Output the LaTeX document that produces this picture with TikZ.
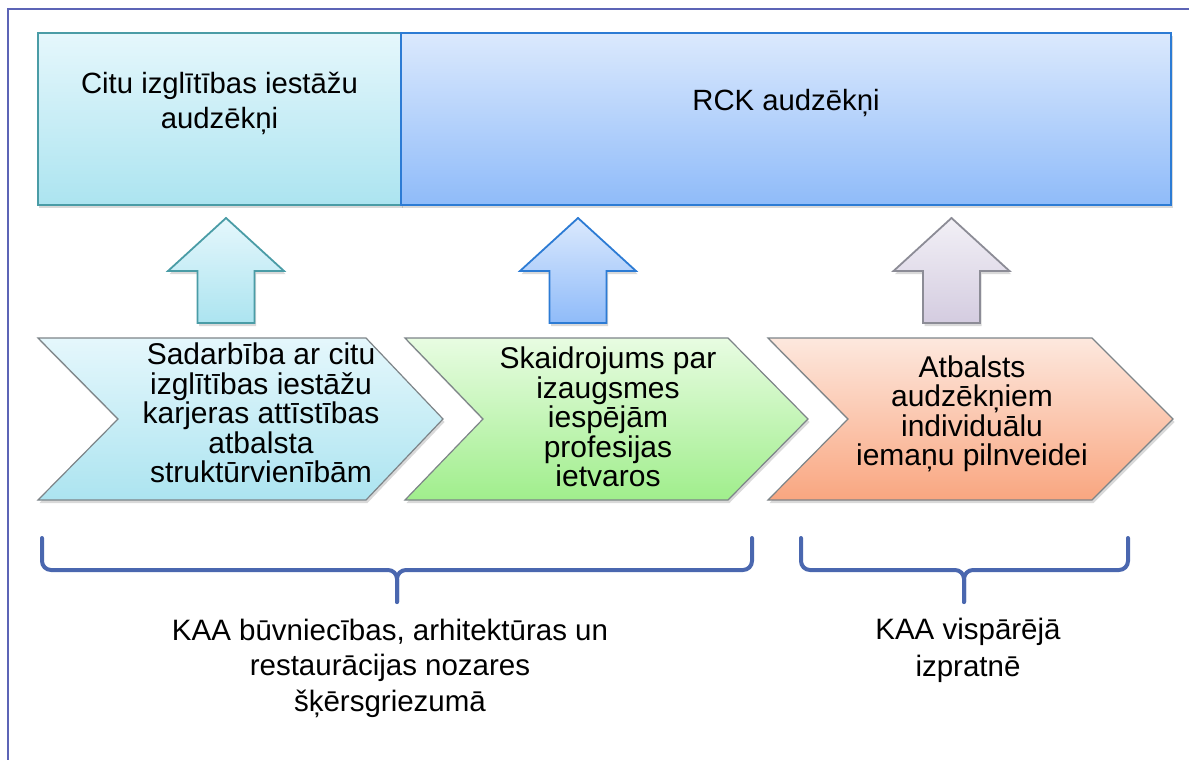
\documentclass[tikz,border=0pt]{standalone}
\usepackage{fontspec}
\setmainfont{Liberation Sans}
\usetikzlibrary{shadows}
\definecolor{framecol}{RGB}{92,100,182}
\definecolor{bracecol}{RGB}{74,103,175}
\definecolor{lTop}{RGB}{229,247,252}
\definecolor{lBot}{RGB}{172,228,240}
\definecolor{lBrd}{RGB}{74,156,166}
\definecolor{rTop}{RGB}{219,233,253}
\definecolor{rBot}{RGB}{143,187,249}
\definecolor{rBrd}{RGB}{44,123,212}
\definecolor{pTop}{RGB}{242,240,246}
\definecolor{pBot}{RGB}{212,204,224}
\definecolor{pBrd}{RGB}{140,140,150}
\definecolor{gTop}{RGB}{232,252,226}
\definecolor{gBot}{RGB}{160,238,140}
\definecolor{oTop}{RGB}{253,232,222}
\definecolor{oBot}{RGB}{249,166,128}
\definecolor{chBrd}{RGB}{125,132,136}
\tikzset{
  softshadow/.style={drop shadow={shadow xshift=1.5bp, shadow yshift=-3bp, opacity=0.25, fill=black!60}},
  txt/.style={font=\fontsize{29.5bp}{35.5bp}\selectfont, align=center, inner sep=0pt},
  chevtxt/.style={font=\fontsize{30bp}{29.5bp}\selectfont, align=center, inner sep=0pt},
  bracket/.style={draw=bracecol, line width=4bp, rounded corners=9bp, line cap=round},
  topbox/.style={line width=2.5bp, softshadow, inner sep=0pt},
  chev/.style={draw=chBrd, line width=1.2bp, softshadow},
  uparrow/.style={line width=1.8bp, softshadow},
}
\begin{document}
\begin{tikzpicture}[x=1bp, y=-1bp]
\useasboundingbox (0,0) rectangle (1189,760);
% frame
\draw[framecol, line width=2bp] (8,760) -- (8,9) -- (1189,9);

% top boxes
\node[topbox, draw=lBrd, top color=lTop, bottom color=lBot,
      minimum width=363bp, minimum height=172bp] (boxL) at (219.5,119) {};
\node[topbox, draw=rBrd, top color=rTop, bottom color=rBot,
      minimum width=770bp, minimum height=172bp] (boxR) at (786,119) {};
\node[txt, font=\fontsize{29.3bp}{35bp}\selectfont] (tL) at (219.5,103) {Citu izglītības iestāžu\\audzēkņi};
\node[txt, font=\fontsize{29.3bp}{35bp}\selectfont] (tR) at (786,103) {RCK audzēkņi};

% up arrows
\path[uparrow, draw=lBrd, top color=lTop, bottom color=lBot]
  (226,218) -- (284,271) -- (254.5,271) -- (254.5,323) -- (197.5,323) -- (197.5,271) -- (168,271) -- cycle;
\path[uparrow, draw=rBrd, top color=rTop, bottom color=rBot]
  (578,218) -- (636,271) -- (606.5,271) -- (606.5,323) -- (549.5,323) -- (549.5,271) -- (520,271) -- cycle;
\path[uparrow, draw=pBrd, top color=pTop, bottom color=pBot]
  (951.5,218) -- (1009.5,271) -- (980,271) -- (980,323) -- (923,323) -- (923,271) -- (893.5,271) -- cycle;

% chevrons
\path[chev, top color=lTop, bottom color=lBot]
  (38,338) -- (366,338) -- (443,419) -- (366,500) -- (38,500) -- (118,419) -- cycle;
\path[chev, top color=gTop, bottom color=gBot]
  (405,338) -- (728,338) -- (808,419) -- (728,500) -- (405,500) -- (483,419) -- cycle;
\path[chev, top color=oTop, bottom color=oBot]
  (768,338) -- (1092,338) -- (1173,419) -- (1092,500) -- (768,500) -- (848,419) -- cycle;

\node[chevtxt] (c1) at (261,413) {Sadarbība ar citu\\izglītības iestāžu\\karjeras attīstības\\atbalsta\\struktūrvienībām};
\node[chevtxt] (c2) at (608,417) {Skaidrojums par\\izaugsmes\\iespējām\\profesijas\\ietvaros};
\node[chevtxt] (c3) at (972,414) {Atbalsts\\audzēkņiem\\individuālu\\iemaņu pilnveidei};

% brackets
\coordinate (b1tip) at (397,602);
\coordinate (b2tip) at (964,602);
\draw[bracket] (42,538) |- (397,570) -- (b1tip);
\draw[bracket] (752,538) |- (397,570) -- (b1tip);
\draw[bracket] (801,538) |- (964,570) -- (b2tip);
\draw[bracket] (1128,538) |- (964,570) -- (b2tip);

\node[txt] (bL) at (390,668) {KAA būvniecības, arhitektūras un\\restaurācijas nozares\\šķērsgriezumā};
\node[txt, font=\fontsize{29.5bp}{37bp}\selectfont] (bR) at (968,650) {KAA vispārējā\\izpratnē};
\end{tikzpicture}
\end{document}
